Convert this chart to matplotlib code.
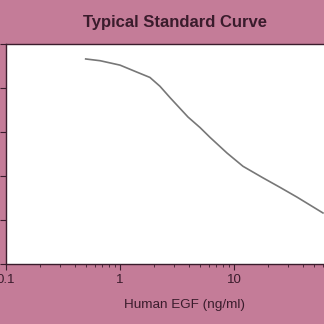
import numpy as np
import matplotlib
matplotlib.use("Agg")
import matplotlib.pyplot as plt

# curve
conc = [0.5, 0.67, 1.0, 1.41, 1.83, 2.24, 2.75, 3.95, 5.04, 6.15, 8.7, 12.0, 17.9, 25.4, 35.7, 60.3]
od = [2.33, 2.31, 2.26, 2.18, 2.12, 2.02, 1.89, 1.67, 1.55, 1.44, 1.26, 1.11, 0.98, 0.87, 0.76, 0.58]
xticks = [0.1, 1, 10]
xticklabels = ["0.1", "1", "10"]
yticks = [0, 0.5, 1.0, 1.5, 2.0, 2.5]

bg = "#c47c98"
ink = "#3a1c2c"

fig = plt.figure(figsize=(3.24, 3.24), dpi=100, facecolor=bg)
# plot area runs off the right edge as in the scan
ax = fig.add_axes([6/324, 1 - 264/324, 342/324, 220/324])
ax.set_facecolor("white")
ax.plot(conc, od, color="#777777", lw=1.2)
ax.set_xscale("log")
ax.set_xlim(0.1, 100)
ax.set_ylim(0, 2.5)
ax.set_xticks(xticks)
ax.set_xticklabels(xticklabels, fontsize=9.5, color=ink)
ax.set_yticks(yticks)
ax.set_yticklabels([])
ax.tick_params(axis="both", direction="out", colors=ink, length=4, width=0.8)
ax.tick_params(axis="x", which="minor", length=2, colors=ink)
for s in ax.spines.values():
    s.set_color(ink)
    s.set_linewidth(1.0)

fig.text(175/324, 1 - 22/324, "Typical Standard Curve", ha="center", va="center",
         fontsize=12, fontweight="bold", color=ink, family="Liberation Sans")
fig.text(185/324, 1 - 305/324, "Human EGF (ng/ml)", ha="center", va="center",
         fontsize=9.7, color=ink, family="Liberation Sans")
for lab in ax.get_xticklabels():
    lab.set_family("Liberation Sans")

fig.savefig("out.png", dpi=100, facecolor=bg)
